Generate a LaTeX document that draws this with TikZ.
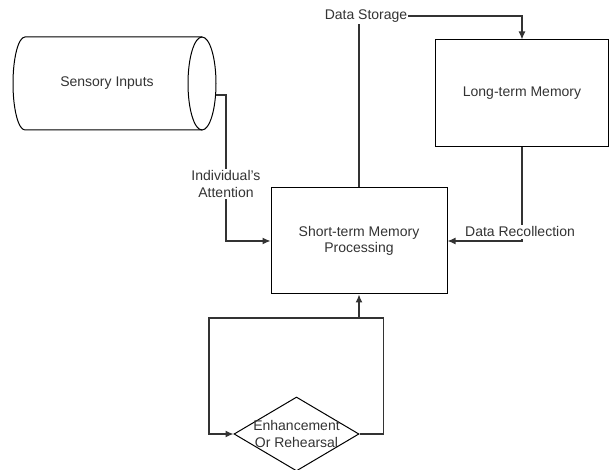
\documentclass[tikz,border=0pt]{standalone}
\usepackage{fontspec}
\setmainfont{Liberation Sans}
\usetikzlibrary{shapes.geometric,arrows.meta}

\begin{document}
\begin{tikzpicture}[x=1pt, y=1pt,
	box/.style={draw, line width=1pt, minimum width=176pt, minimum height=106pt, inner sep=0pt},
	txt/.style={font=\fontsize{14}{16.5}\selectfont, text=black!80, align=center},
	tag/.style={txt, fill=white, inner xsep=1pt, inner ysep=2pt},
	link/.style={line width=1.2pt, black!80, -{Latex[length=8pt,width=7pt]}}]
		\useasboundingbox (0,0) rectangle (610,470);
		% sensory store
		\draw[line width=1pt] (202,433) -- (25,433)
		arc[start angle=90, end angle=270, x radius=12, y radius=46.5] -- (202,340);
		\draw[line width=1pt] (202,386.5) ellipse[x radius=14, y radius=46.5];
		\node[txt] (sens) at (107,387) {Sensory Inputs};
		\coordinate (sensout) at (215.6,375);
		% boxes
		\node[box, txt] (stm) at (359,229) {Short-term Memory\\Processing};
		\node[box, txt, minimum width=173pt, minimum height=107pt] (ltm) at (522,376.5) {Long-term Memory};
		\node[diamond, draw, line width=1pt, minimum width=125pt, minimum height=74pt, inner sep=0pt] (enh) at (296.5,36) {};
		\node[txt] (enhtxt) at (enh) {Enhancement\\Or Rehearsal};
		% arrows
		\draw[link] (sensout) -- ++(10.4,0) |- (stm.west);
		\draw[link] (stm.north) -- (359,454) -| (ltm.north);
		\draw[link] (ltm.south) |- (stm.east);
		\draw[link] (enh.east) -- ++(24,0) |- (209,152) |- (enh.west);
		\coordinate (loop) at (359,152);
		\draw[link] (loop) -- (stm.south);
		% labels
		\node[tag] (att) at (226,286) {Individual's\\Attention};
		\node[tag] (store) at (366,454) {Data Storage};
		\node[tag, anchor=base] (recall) at (520,233) {Data Recollection};
	\end{tikzpicture}
\end{document}
